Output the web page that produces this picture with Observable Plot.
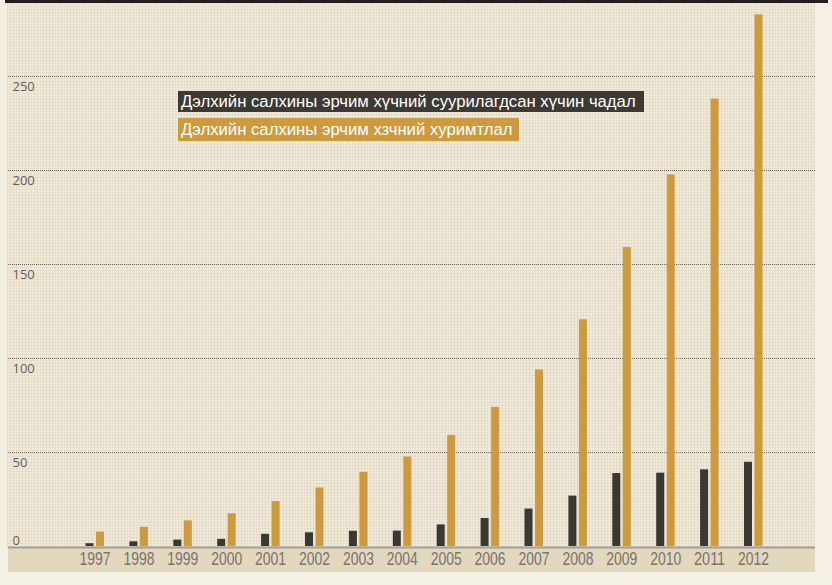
<!DOCTYPE html>
<html>
<head>
<meta charset="utf-8">
<script src="https://cdn.jsdelivr.net/npm/d3@7"></script>
<script src="https://cdn.jsdelivr.net/npm/@observablehq/plot@0.6"></script>
<style>
  html, body { margin: 0; padding: 0; background: #f4f0e6; }
  #wrap { position: relative; width: 832px; height: 585px; overflow: hidden; }
  #topbar { position: absolute; left: 5px; top: 0; width: 823px; height: 3px; background: #231f1c; }
  #panel { position: absolute; left: 7px; top: 3px; width: 808px; height: 545px;
    background-color: #f0eadb;
    background-image:
      linear-gradient(to right, rgba(215,204,172,0.35) 1px, transparent 1px),
      linear-gradient(to bottom, rgba(215,204,172,0.35) 1px, transparent 1px);
    background-size: 3px 3px; }
  #band { position: absolute; left: 8px; top: 547px; width: 807px; height: 25px; background: #e1d8bd; }
  #chart { position: absolute; left: 0; top: 0; }
  .leg { position: absolute; left: 178px; color: #fff; font-family: "Liberation Sans", Arial, sans-serif;
    font-size: 16.7px; line-height: 21px; padding: 0 8px 0 3px; white-space: nowrap; }
  #leg1 { top: 91px; background: #3d3933; }
  #leg2 { top: 118px; background: #cd9a3e; line-height: 23px; padding-right: 6px; }
</style>
</head>
<body>
<div id="wrap">
  <div id="topbar"></div>
  <div id="panel"></div>
  <div id="band"></div>
  <div id="chart"></div>
  <div class="leg" id="leg1"></div>
  <div class="leg" id="leg2"></div>
</div>
<script>
const years = ["1997","1998","1999","2000","2001","2002","2003","2004","2005","2006","2007","2008","2009","2010","2011","2012"];
const installed = [1.5, 2.5, 3.4, 3.8, 6.5, 7.3, 8.1, 8.2, 11.5, 14.9, 19.9, 26.8, 38.8, 39.0, 40.8, 44.8];
const cumulative = [7.6, 10.2, 13.6, 17.4, 23.9, 31.1, 39.4, 47.6, 59.1, 74.0, 93.9, 120.6, 159.0, 197.6, 238.0, 282.8];
const yTicks = [50, 100, 150, 200, 250];
const seriesNames = ["Дэлхийн салхины эрчим хүчний суурилагдсан хүчин чадал", "Дэлхийн салхины эрчим хзчний хуримтлал"];

document.getElementById("leg1").textContent = seriesNames[0];
document.getElementById("leg2").textContent = seriesNames[1];

const rowsA = years.map((y, i) => ({year: y, value: installed[i]}));
const rowsB = years.map((y, i) => ({year: y, value: cumulative[i]}));

const step = (753 - 94.5) / 15;
const half = step / 2;

const chart = Plot.plot({
  width: 832,
  height: 585,
  marginLeft: 0, marginRight: 0, marginTop: 0, marginBottom: 39,
  style: {background: "transparent", overflow: "visible"},
  x: {type: "band", domain: years, range: [94.5 - half, 753 + half], padding: 0, round: false, axis: null},
  y: {domain: [0, 300], range: [546, 546 - 300 * 1.88], axis: null},
  marks: [
    Plot.ruleY(yTicks, {stroke: "#6a655f", strokeWidth: 1, strokeDasharray: "1,1", insetLeft: 8, insetRight: 17}),
    Plot.barY(rowsA, {x: "year", y: "value", fill: "#3b3731", insetLeft: half - 9, insetRight: half + 1}),
    Plot.barY(rowsB, {x: "year", y: "value", fill: "#cd9a3e", insetLeft: half + 1.5, insetRight: half - 9.5}),
    Plot.ruleY([0], {stroke: "#a29e98", strokeWidth: 2, dy: 1, insetLeft: 8, insetRight: 17}),
    Plot.text(yTicks, {y: d => d, text: d => String(d), frameAnchor: "left", textAnchor: "start", lineAnchor: "top", dx: 12, dy: 5,
      fill: "#665f5a", fontSize: 13, fontFamily: "'Open Sans', 'DejaVu Sans', sans-serif"}),
    Plot.text([0], {y: d => d, text: d => String(d), frameAnchor: "left", textAnchor: "start", lineAnchor: "bottom", dx: 12, dy: -2,
      fill: "#665f5a", fontSize: 13, fontFamily: "'Open Sans', 'DejaVu Sans', sans-serif"}),
    Plot.axisX({tickSize: 0, tickPadding: 5, fontSize: 19, fill: "#79736c", label: null,
      fontFamily: "'Liberation Sans', sans-serif"})
  ]
});
// condense the year labels horizontally, as in the reference typeface
d3.select(chart).selectAll("text")
  .filter(function() { return years.includes(this.textContent.trim()); })
  .attr("textLength", 31).attr("lengthAdjust", "spacingAndGlyphs");
document.getElementById("chart").appendChild(chart);
</script>
</body>
</html>
